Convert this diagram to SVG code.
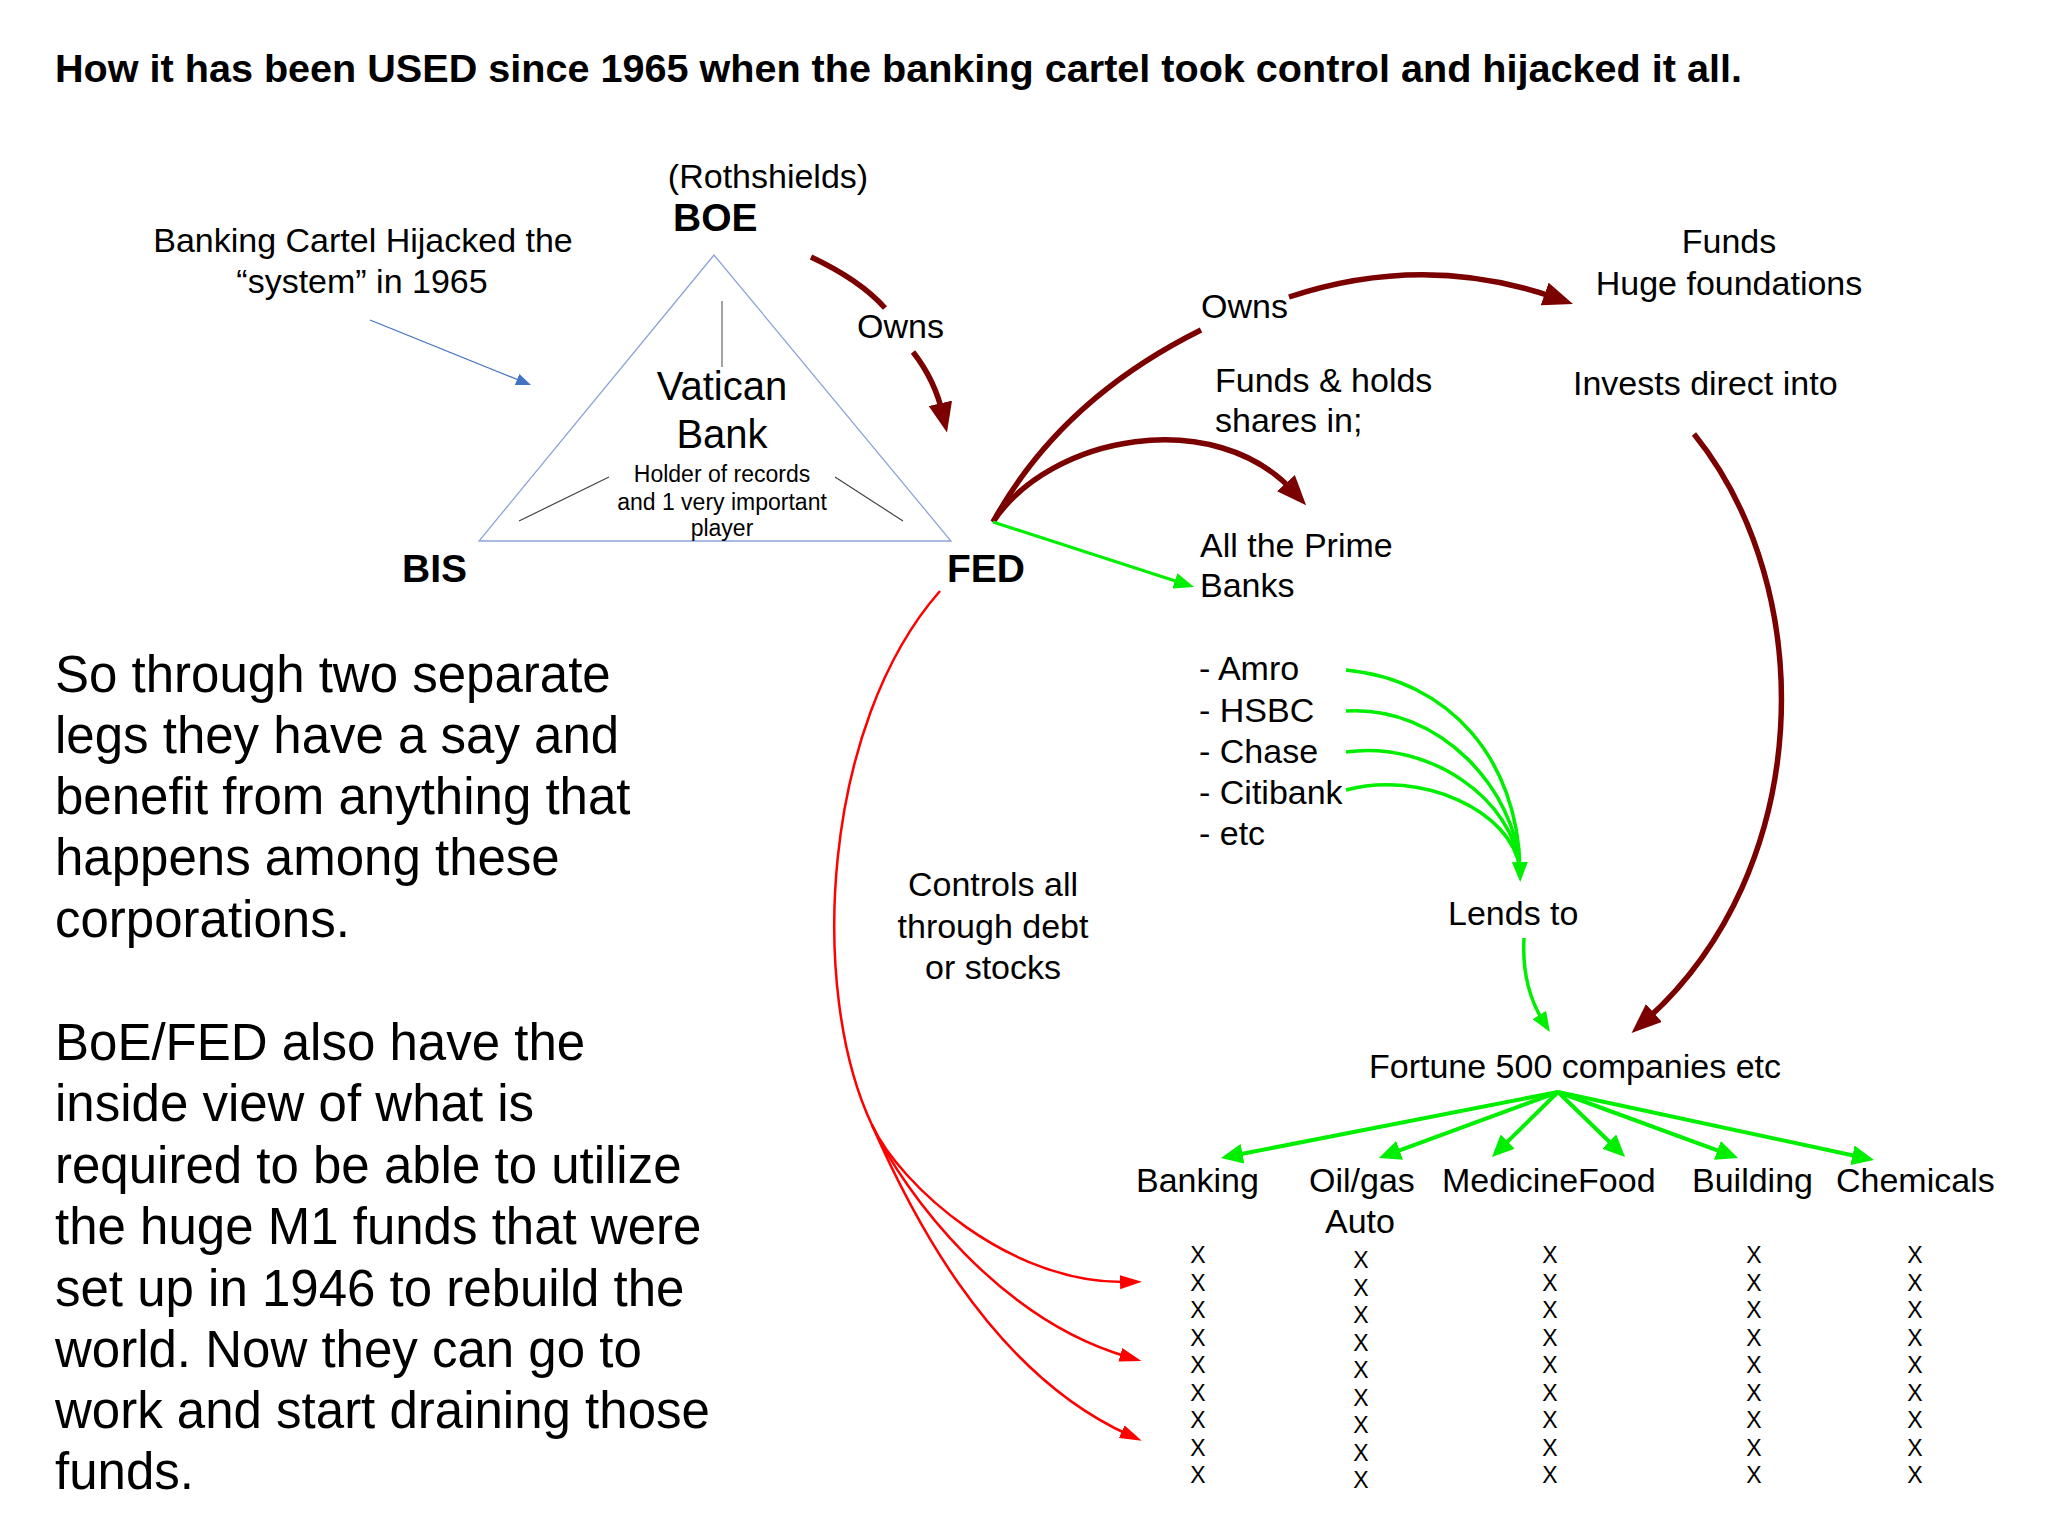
<svg xmlns="http://www.w3.org/2000/svg" width="2048" height="1536" viewBox="0 0 2048 1536">
<style>
text{font-family:"Liberation Sans",Arial,sans-serif;fill:#000}
.t34{font-size:34px}
.b{font-weight:bold}
.mid{text-anchor:middle}
.para{font-size:51px}
.x{font-size:23px;text-anchor:middle}
.dred{fill:none;stroke:#7b0000;stroke-width:5.5}
.gr{fill:none;stroke:#00ee00;stroke-width:3.5}
.grf{fill:none;stroke:#00ee00;stroke-width:4}
.rd{fill:none;stroke:#ff0000;stroke-width:2.5}
</style>
<defs>
<marker id="m-dred" markerUnits="userSpaceOnUse" markerWidth="30" markerHeight="24" refX="12" refY="12" orient="auto"><path d="M0,0 L30,12 L0,24 z" fill="#7b0000"/></marker>
<marker id="m-gfan" markerUnits="userSpaceOnUse" markerWidth="22" markerHeight="20" refX="8" refY="10" orient="auto"><path d="M0,0 L22,10 L0,20 z" fill="#00ee00"/></marker>
<marker id="m-gsm" markerUnits="userSpaceOnUse" markerWidth="20" markerHeight="16" refX="7" refY="8" orient="auto"><path d="M0,0 L20,8 L0,16 z" fill="#00ee00"/></marker>
<marker id="m-red" markerUnits="userSpaceOnUse" markerWidth="22" markerHeight="14" refX="8" refY="7" orient="auto"><path d="M0,0 L22,7 L0,14 z" fill="#ff0000"/></marker>
<marker id="m-blue" markerUnits="userSpaceOnUse" markerWidth="15" markerHeight="12" refX="5" refY="6" orient="auto"><path d="M0,0 L15,6 L0,12 z" fill="#4472c4"/></marker>
</defs>
<rect width="2048" height="1536" fill="#ffffff"/>

<g id="title"><text x="55" y="82" class="b" font-size="39.6">How it has been USED since 1965 when the banking cartel took control and hijacked it all.</text></g>

<g id="triangle">
<polygon points="714,255 479,541 951,541" fill="none" stroke="#8da4d6" stroke-width="1.3"/>
<line x1="722" y1="301" x2="722" y2="367" stroke="#666" stroke-width="1.2"/>
<line x1="519" y1="521" x2="609" y2="477" stroke="#444" stroke-width="1.2"/>
<line x1="835" y1="477" x2="903" y2="521" stroke="#444" stroke-width="1.2"/>
</g>

<g id="vatican">
<text class="mid" x="722" y="400" font-size="40">Vatican</text>
<text class="mid" x="722" y="448" font-size="40">Bank</text>
<text class="mid" x="722" y="482" font-size="23">Holder of records</text>
<text class="mid" x="722" y="510" font-size="23">and 1 very important</text>
<text class="mid" x="722" y="536" font-size="23">player</text>
</g>

<g id="boe">
<text class="t34 mid" x="768" y="188">(Rothshields)</text>
<text class="b" x="673" y="231" font-size="39">BOE</text>
</g>
<g id="bis"><text class="b" x="402" y="582" font-size="39">BIS</text></g>
<g id="fed"><text class="b" x="947" y="582" font-size="39">FED</text></g>

<g id="hijack-note">
<text class="t34 mid" x="363" y="252">Banking Cartel Hijacked the</text>
<text class="t34 mid" x="362" y="293">“system” in 1965</text>
</g>

<g id="owns1"><text class="t34" x="857" y="338">Owns</text></g>
<g id="owns2"><text class="t34" x="1201" y="318">Owns</text></g>
<g id="funds-holds">
<text class="t34" x="1215" y="392">Funds &amp; holds</text>
<text class="t34" x="1215" y="432">shares in;</text>
</g>
<g id="prime-banks">
<text class="t34" x="1200" y="557">All the Prime</text>
<text class="t34" x="1200" y="597">Banks</text>
</g>
<g id="foundations">
<text class="t34 mid" x="1729" y="253">Funds</text>
<text class="t34 mid" x="1729" y="295">Huge foundations</text>
</g>
<g id="invests"><text class="t34" x="1573" y="395">Invests direct into</text></g>
<g id="bank-list">
<text class="t34" x="1199" y="680">- Amro</text>
<text class="t34" x="1199" y="722">- HSBC</text>
<text class="t34" x="1199" y="763">- Chase</text>
<text class="t34" x="1199" y="804">- Citibank</text>
<text class="t34" x="1199" y="845">- etc</text>
</g>
<g id="lends"><text class="t34" x="1448" y="925">Lends to</text></g>
<g id="controls">
<text class="t34 mid" x="993" y="896">Controls all</text>
<text class="t34 mid" x="993" y="938">through debt</text>
<text class="t34 mid" x="993" y="979">or stocks</text>
</g>
<g id="fortune"><text class="t34 mid" x="1575" y="1078">Fortune 500 companies etc</text></g>

<g id="sectors">
<text class="t34" x="1136" y="1192">Banking</text>
<text class="t34" x="1309" y="1192">Oil/gas</text>
<text class="t34" x="1325" y="1233">Auto</text>
<text class="t34" x="1442" y="1192">MedicineFood</text>
<text class="t34" x="1692" y="1192">Building</text>
<text class="t34" x="1836" y="1192">Chemicals</text>
</g>

<g id="x-banking">
<text class="x" x="1198" y="1263">X</text><text class="x" x="1198" y="1290.5">X</text><text class="x" x="1198" y="1318">X</text><text class="x" x="1198" y="1345.5">X</text><text class="x" x="1198" y="1373">X</text><text class="x" x="1198" y="1400.5">X</text><text class="x" x="1198" y="1428">X</text><text class="x" x="1198" y="1455.5">X</text><text class="x" x="1198" y="1483">X</text>
</g>
<g id="x-oilgas">
<text class="x" x="1361" y="1268">X</text><text class="x" x="1361" y="1295.5">X</text><text class="x" x="1361" y="1323">X</text><text class="x" x="1361" y="1350.5">X</text><text class="x" x="1361" y="1378">X</text><text class="x" x="1361" y="1405.5">X</text><text class="x" x="1361" y="1433">X</text><text class="x" x="1361" y="1460.5">X</text><text class="x" x="1361" y="1488">X</text>
</g>
<g id="x-medicine">
<text class="x" x="1550" y="1263">X</text><text class="x" x="1550" y="1290.5">X</text><text class="x" x="1550" y="1318">X</text><text class="x" x="1550" y="1345.5">X</text><text class="x" x="1550" y="1373">X</text><text class="x" x="1550" y="1400.5">X</text><text class="x" x="1550" y="1428">X</text><text class="x" x="1550" y="1455.5">X</text><text class="x" x="1550" y="1483">X</text>
</g>
<g id="x-building">
<text class="x" x="1754" y="1263">X</text><text class="x" x="1754" y="1290.5">X</text><text class="x" x="1754" y="1318">X</text><text class="x" x="1754" y="1345.5">X</text><text class="x" x="1754" y="1373">X</text><text class="x" x="1754" y="1400.5">X</text><text class="x" x="1754" y="1428">X</text><text class="x" x="1754" y="1455.5">X</text><text class="x" x="1754" y="1483">X</text>
</g>
<g id="x-chemicals">
<text class="x" x="1915" y="1263">X</text><text class="x" x="1915" y="1290.5">X</text><text class="x" x="1915" y="1318">X</text><text class="x" x="1915" y="1345.5">X</text><text class="x" x="1915" y="1373">X</text><text class="x" x="1915" y="1400.5">X</text><text class="x" x="1915" y="1428">X</text><text class="x" x="1915" y="1455.5">X</text><text class="x" x="1915" y="1483">X</text>
</g>

<g id="para1">
<text class="para" x="55" y="692">So through two separate</text>
<text class="para" x="55" y="753">legs they have a say and</text>
<text class="para" x="55" y="814">benefit from anything that</text>
<text class="para" x="55" y="875">happens among these</text>
<text class="para" x="55" y="937">corporations.</text>
</g>
<g id="para2">
<text class="para" x="55" y="1060">BoE/FED also have the</text>
<text class="para" x="55" y="1121">inside view of what is</text>
<text class="para" x="55" y="1183">required to be able to utilize</text>
<text class="para" x="55" y="1244">the huge M1 funds that were</text>
<text class="para" x="55" y="1306">set up in 1946 to rebuild the</text>
<text class="para" x="55" y="1367">world. Now they can go to</text>
<text class="para" x="55" y="1428">work and start draining those</text>
<text class="para" x="55" y="1489">funds.</text>
</g>

<g id="connectors">
<line x1="370" y1="320" x2="521.7" y2="381.3" stroke="#4472c4" stroke-width="1.2" marker-end="url(#m-blue)"/>
<path class="dred" d="M811,257 Q860,280 885,308"/>
<path class="dred" d="M913,352 Q935,380 943,415" marker-end="url(#m-dred)"/>
<path class="dred" d="M993,522 Q1060,400 1201,330"/>
<path class="dred" d="M1289,297 Q1425,252 1556,298" marker-end="url(#m-dred)"/>
<path class="dred" d="M993,522 C1050,435 1215,405 1294,492" marker-end="url(#m-dred)"/>
<path class="dred" d="M1694,434 C1820,590 1815,870 1645,1021" marker-end="url(#m-dred)"/>
<line x1="993" y1="522" x2="1181.6" y2="583" stroke="#00ee00" stroke-width="3" marker-end="url(#m-gsm)"/>
<path class="gr" d="M1346,670 C1450,680 1518,760 1520,869" marker-end="url(#m-gsm)"/>
<path class="gr" d="M1346,711 C1440,705 1516,790 1520,869"/>
<path class="gr" d="M1346,752 C1430,740 1514,800 1520,869"/>
<path class="gr" d="M1346,790 C1420,770 1512,810 1520,869"/>
<path class="gr" d="M1524,938 C1522,975 1530,1000 1543,1021" stroke-width="3" marker-end="url(#m-gsm)"/>
<line class="grf" x1="1558" y1="1092" x2="1234.7" y2="1155.3" marker-end="url(#m-gfan)"/>
<line class="grf" x1="1558" y1="1092" x2="1392.1" y2="1153.2" marker-end="url(#m-gfan)"/>
<line class="grf" x1="1558" y1="1092" x2="1502" y2="1147.2" marker-end="url(#m-gfan)"/>
<line class="grf" x1="1558" y1="1092" x2="1615" y2="1147.2" marker-end="url(#m-gfan)"/>
<line class="grf" x1="1558" y1="1092" x2="1724.9" y2="1153.2" marker-end="url(#m-gfan)"/>
<line class="grf" x1="1558" y1="1092" x2="1860.3" y2="1157" marker-end="url(#m-gfan)"/>
<path class="rd" d="M940,591 C822,725 808,990 872,1125 C900,1185 1010,1285 1128,1282" marker-end="url(#m-red)"/>
<path class="rd" d="M872,1125 C905,1195 1000,1320 1128,1357" marker-end="url(#m-red)"/>
<path class="rd" d="M872,1125 C905,1200 985,1370 1129,1435" marker-end="url(#m-red)"/>
</g>
</svg>
